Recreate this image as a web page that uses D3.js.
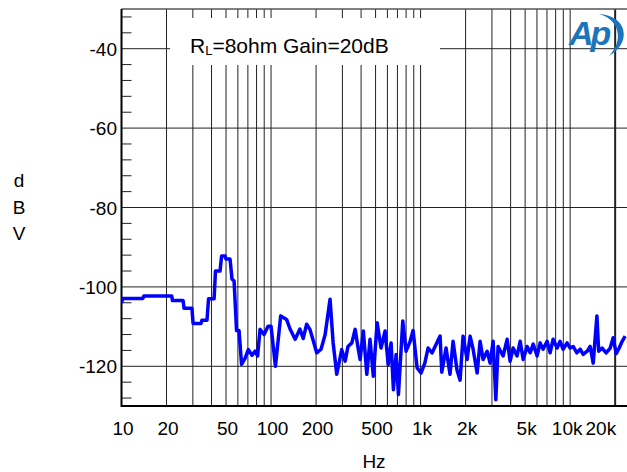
<!DOCTYPE html>
<html>
<head>
<meta charset="utf-8">
<script src="https://cdn.jsdelivr.net/npm/d3@7"></script>
<style>
body { margin: 0; background: #fff; }
svg text { font-family: "Liberation Sans", Arial, sans-serif; fill: #000; }
</style>
</head>
<body>
<div class="graph"></div>
<script>
// frequency (Hz) and level (dBV)
var freqs = [10, 10.2, 13.9, 14.1, 21.7, 21.9, 25.8, 26.2, 29.6, 30.1, 34.0, 34.5, 37.3, 38.2, 41.6, 42.5, 45.6, 46.7, 49.3, 50.0,
  53.2, 54.8, 56.6, 58.8, 61.1, 63.5, 67.0, 70.5, 74.6, 78.1, 81.3, 84.4, 89.8, 95.5, 100, 107, 116, 127, 134, 145,
  156, 164, 173, 182, 192, 202, 216, 230, 248, 260, 275, 297, 313, 327, 347, 365, 382, 394, 414, 437,
  459, 483, 512, 544, 579, 607, 635, 658, 686, 711, 760, 800, 851, 891, 948, 1007, 1067, 1122, 1194, 1250,
  1350, 1386, 1480, 1573, 1648, 1753, 1837, 1923, 2046, 2143, 2244, 2388, 2500, 2618, 2786, 2917, 3055, 3184, 3297, 3562,
  3790, 3969, 4156, 4416, 4633, 4851, 5155, 5400, 5662, 6013, 6300, 6597, 7015, 7346, 7691, 8180, 8565, 8970, 9540, 10000,
  10470, 11090, 11670, 12220, 13000, 13610, 14260, 15100, 15520, 16370, 17410, 18530, 19400, 20320, 21280, 22280, 23330];
var levels = [-104.0, -102.9, -102.9, -102.3, -102.3, -103.4, -103.4, -105.4, -105.4, -109.2, -109.2, -108.4, -108.4, -103.0, -103.0, -96.0, -96.0, -92.2, -92.2, -93.0,
  -93.0, -98.0, -98.5, -111.0, -111.0, -119.5, -118.0, -115.8, -117.2, -116.2, -117.4, -110.7, -112.0, -109.9, -109.9, -120.0, -107.3, -108.2, -110.6, -113.2,
  -110.6, -113.0, -109.4, -110.7, -113.7, -116.6, -115.7, -112.0, -103.1, -114.0, -122.0, -115.8, -118.7, -115.0, -114.1, -110.7, -115.4, -118.3, -111.1, -122.0,
  -113.2, -122.5, -109.0, -115.4, -111.1, -119.6, -114.1, -125.9, -117.0, -127.1, -108.6, -116.2, -113.7, -111.0, -120.4, -121.7, -119.2, -115.4, -116.6, -115.0,
  -112.4, -121.5, -115.4, -122.0, -113.7, -121.0, -123.5, -112.4, -118.3, -112.4, -115.7, -121.7, -113.7, -118.3, -116.2, -119.2, -113.7, -128.4, -115.0, -117.4,
  -113.2, -118.7, -115.4, -117.4, -113.7, -118.3, -115.0, -116.6, -114.4, -117.4, -114.1, -115.7, -113.7, -116.6, -113.2, -115.4, -113.7, -115.7, -114.1, -115.4,
  -115.0, -116.6, -115.7, -117.0, -116.2, -115.0, -119.2, -107.3, -116.2, -115.4, -116.6, -115.4, -112.8, -116.8, -115.4, -113.7, -112.4];

var xTicks = [10, 20, 50, 100, 200, 500, 1000, 2000, 5000, 10000, 20000];
var xTickLabels = ["10", "20", "50", "100", "200", "500", "1k", "2k", "5k", "10k", "20k"];
var xGrid = [20, 30, 40, 50, 60, 70, 80, 90, 100, 200, 300, 400, 500, 600, 700, 800, 900,
  1000, 2000, 3000, 4000, 5000, 6000, 7000, 8000, 9000, 10000, 20000];
var yTicks = [-40, -60, -80, -100, -120];

const w = 627;
const h = 472;
const pLeft = 121.5, pRight = 627, pTop = 9, pBottom = 406;

const xScale = d3.scaleLog().domain([10, 24000]).range([pLeft, pRight]);
const yScale = d3.scaleLinear().domain([-130, -30]).range([pBottom, pTop]);

const svg = d3.select(".graph").append("svg")
  .attr("width", w).attr("height", h);

svg.append("defs").append("clipPath").attr("id", "plot")
  .append("rect").attr("x", pLeft).attr("y", pTop)
  .attr("width", pRight - pLeft).attr("height", pBottom - pTop);

// grid
svg.append("g").selectAll("line").data(xGrid).enter().append("line")
  .attr("x1", d => xScale(d)).attr("x2", d => xScale(d))
  .attr("y1", pTop).attr("y2", pBottom)
  .attr("stroke", "#222").attr("stroke-width", d => d == 20000 ? 2 : 1);

svg.append("g").selectAll("line").data(yTicks).enter().append("line")
  .attr("x1", pLeft).attr("x2", pRight)
  .attr("y1", d => yScale(d)).attr("y2", d => yScale(d))
  .attr("stroke", "#222").attr("stroke-width", 1);

// minor y ticks every 4 dB
svg.append("g").selectAll("line").data(d3.range(-128, -30, 4).filter(d => d % 20 != 0)).enter().append("line")
  .attr("x1", pLeft).attr("x2", pLeft + 10)
  .attr("y1", d => yScale(d)).attr("y2", d => yScale(d))
  .attr("stroke", "#222").attr("stroke-width", 1);

// frame
svg.append("line").attr("x1", pLeft).attr("x2", pRight).attr("y1", pTop).attr("y2", pTop)
  .attr("stroke", "#555").attr("stroke-width", 1.5);
svg.append("line").attr("x1", pLeft).attr("x2", pLeft).attr("y1", pTop).attr("y2", pBottom + 1)
  .attr("stroke", "#000").attr("stroke-width", 2);
svg.append("line").attr("x1", pLeft).attr("x2", pRight).attr("y1", pBottom).attr("y2", pBottom)
  .attr("stroke", "#000").attr("stroke-width", 2);

// legend box
svg.append("rect").attr("x", 170).attr("y", 18).attr("width", 270).attr("height", 47)
  .attr("fill", "#fff");
const leg = svg.append("text").attr("x", 190).attr("y", 53).style("font-size", "21px");
leg.append("tspan").text("R");
leg.append("tspan").attr("dy", 2).style("font-size", "13px").text("L");
leg.append("tspan").attr("dy", -2).text("=8ohm Gain=20dB");

// Ap logo
const logo = svg.append("g").attr("transform", "translate(569,14)");
logo.append("text").attr("x", 0).attr("y", 31)
  .style("font-size", "34px").style("font-style", "italic").style("font-weight", "bold")
  .style("fill", "#1b75bb").style("letter-spacing", "-3px").text("Ap");
logo.append("path")
  .attr("d", "M30,0 C60,2 62,30 40,42 C54,28 52,6 30,0 Z")
  .attr("fill", "#1b75bb");

// data
const line = d3.line().x((d, i) => xScale(freqs[i])).y(d => yScale(d));
svg.append("path").datum(levels)
  .attr("clip-path", "url(#plot)")
  .attr("fill", "none").attr("stroke", "#0000ff").attr("stroke-width", 3.5)
  .attr("stroke-linejoin", "round")
  .attr("d", line);

// tick labels
svg.append("g").selectAll("text").data(yTicks).enter().append("text")
  .attr("x", 117).attr("y", d => yScale(d) + 7)
  .style("text-anchor", "end").style("font-size", "19px")
  .text(d => d);

svg.append("g").selectAll("text").data(xTicks).enter().append("text")
  .attr("x", d => d == 20000 ? xScale(d) + 1 : (d == 10000 ? xScale(d) - 3 : xScale(d) + 1.5))
  .attr("y", 435)
  .style("text-anchor", d => d == 20000 ? "end" : "middle").style("font-size", "19px")
  .text((d, i) => xTickLabels[i]);

svg.append("text").attr("x", 374).attr("y", 468)
  .style("text-anchor", "middle").style("font-size", "19px").text("Hz");

["d", "B", "V"].forEach(function(c, i) {
  svg.append("text").attr("x", 19).attr("y", 187 + i * 26.5)
    .style("text-anchor", "middle").style("font-size", "19px").text(c);
});
</script>
</body>
</html>
